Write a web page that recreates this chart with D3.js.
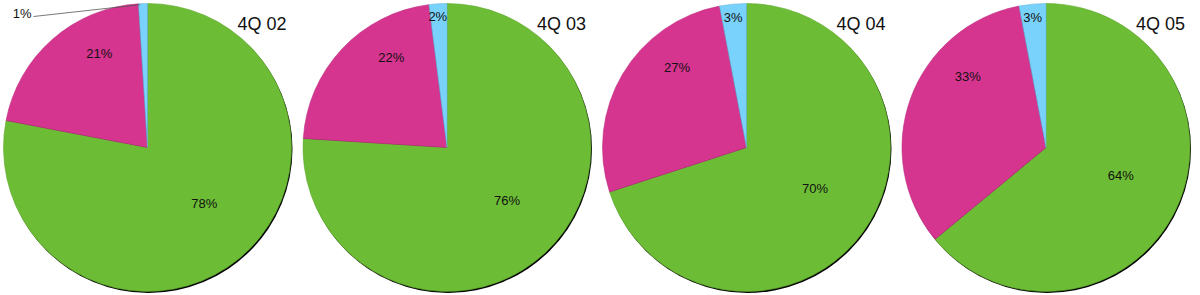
<!doctype html>
<html>
  <head>
    <script src="https://cdnjs.cloudflare.com/ajax/libs/d3/7.8.5/d3.min.js"></script>
    <style>
      body { margin: 0; background: #fff; }
      text { font-family: "Liberation Sans", Arial, Helvetica, sans-serif; fill: #111; }
    </style>
  </head>
  <body>
    <svg></svg>
    <script>
      // data, one value per quarter
      var quarters = ["4Q 02", "4Q 03", "4Q 04", "4Q 05"];
      var green    = [78, 76, 70, 64];
      var magenta  = [21, 22, 27, 33];
      var blue     = [1, 2, 3, 3];

      var width = 1200, height = 295;
      var radius = 144, cy = 147.5;
      var colors = ["#6cbd35", "#d5348f", "#78d2fb"];

      var svg = d3.select("svg").attr("width", width).attr("height", height);

      var x = d3.scalePoint().domain(quarters).range([147.5, 1046]);
      var pie = d3.pie().sort(null).value(function(d){ return d; });
      var arc = d3.arc().innerRadius(0).outerRadius(radius);

      // angle of point on circle, 0 = top, clockwise
      function polar(r, a) { return [r * Math.sin(a), -r * Math.cos(a)]; }

      quarters.forEach(function(q, i) {
        var values = [green[i], magenta[i], blue[i]];
        var g = svg.append("g").attr("transform", "translate(" + x(q) + "," + cy + ")");

        //影
        g.append("circle").attr("cx", 1).attr("cy", 1.4).attr("r", radius).style("fill", "#000");

        var slices = pie(values);
        g.selectAll("path.slice").data(slices)
          .enter()
          .append("path")
            .attr("class", "slice")
            .attr("d", arc)
            .style("fill", function(d, k){ return colors[k]; })
            .style("stroke", function(d, k){ return d3.color(colors[k]).darker(0.35); })
            .style("stroke-width", 0.6);

        //ラベル
        slices.forEach(function(d, k) {
          var span = d.endAngle - d.startAngle;
          var txt = d.data + "%";
          if (k === 0) {
            var p = polar(80, d.startAngle + span * 0.48);
            g.append("text").attr("x", p[0]).attr("y", p[1] + 4.5)
              .attr("text-anchor", "middle").style("font-size", "13px").text(txt);
          } else if (k === 1) {
            var p = polar(106, d.startAngle + span * 0.69);
            g.append("text").attr("x", p[0]).attr("y", p[1] + 4.5)
              .attr("text-anchor", "middle").style("font-size", "13px").text(txt);
          } else if (d.data < 1.5) {
            var mid = (d.startAngle + d.endAngle) / 2;
            var p0 = polar(radius - 1, mid - 0.02);
            var p1 = [-114, -131];
            g.append("line").attr("x1", p0[0]).attr("y1", p0[1]).attr("x2", p1[0]).attr("y2", p1[1])
              .style("stroke", "#555").style("stroke-width", 0.8);
            g.append("text").attr("x", p1[0] - 2).attr("y", p1[1] + 1)
              .attr("text-anchor", "end").style("font-size", "13px").text(txt);
          } else {
            var p = polar(131, (d.startAngle + d.endAngle) / 2);
            g.append("text").attr("x", p[0] - 1).attr("y", p[1] + 4.5)
              .attr("text-anchor", "middle").style("font-size", "13px").text(txt);
          }
        });

        g.append("text")
          .attr("x", 139).attr("y", -117.5)
          .attr("text-anchor", "end")
          .style("font-size", "18px")
          .text(q);
      });
    </script>
  </body>
</html>
